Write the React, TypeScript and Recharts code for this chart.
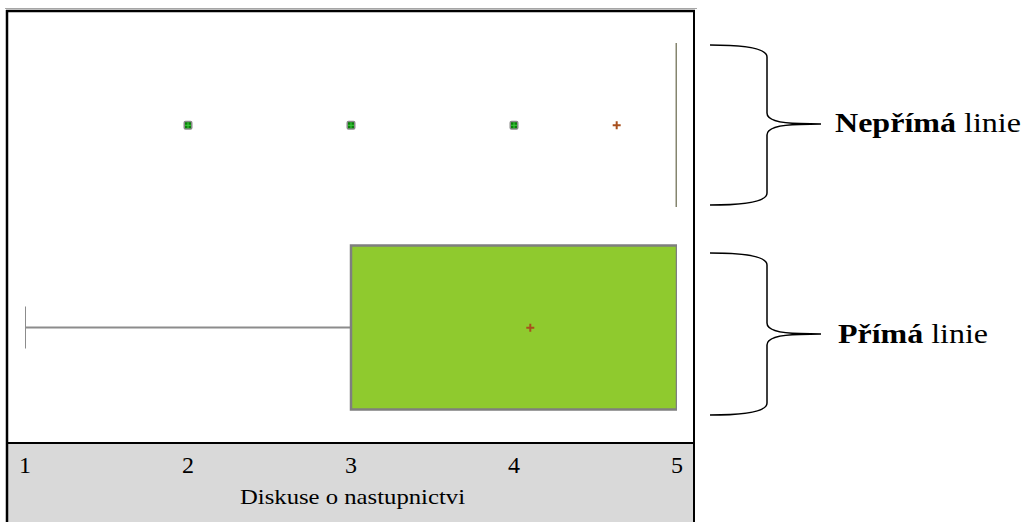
import React from "react";
import { Bar, ComposedChart, Scatter, XAxis, YAxis } from "recharts";

// one row per group, top to bottom
const groups = ["Nepřímá", "Přímá"];
const minValues = [5, 1];
const q1Values = [5, 3];
const q3Values = [5, 5];
const meanValues = [4.63, 4.1];

const outlierGroups = ["Nepřímá", "Nepřímá", "Nepřímá"];
const outlierValues = [2, 3, 4];

const xTicks = [1, 2, 3, 4, 5];
const axisTitle = "Diskuse o nastupnictvi";

const rows = groups.map((cat, i) => ({
  cat,
  min: minValues[i],
  q1: q1Values[i],
  q3: q3Values[i],
}));
const outliers = outlierGroups.map((cat, i) => ({ cat, v: outlierValues[i] }));
const means = groups.map((cat, i) => ({ cat, v: meanValues[i] }));

const serif = "'Liberation Serif', 'Times New Roman', serif";

function BoxShape(props: any) {
  const { x, y, width, height } = props;
  if (Math.abs(width) < 1) {
    return <rect x={x - 1.5} y={y} width={3} height={height} fill="#85856f" />;
  }
  return (
    <rect x={x} y={y} width={width} height={height} fill="#8fca2e" stroke="#7f7f7f" strokeWidth={2.5} />
  );
}

function WhiskerShape(props: any) {
  const { x, y, width, height } = props;
  if (Math.abs(width) < 1) return <g />;
  const cy = y + height / 2;
  return (
    <g stroke="#8c8c8c" strokeWidth={2}>
      <line x1={x} x2={x + width} y1={cy} y2={cy} />
      <line x1={x} x2={x} y1={cy - 21} y2={cy + 21} />
    </g>
  );
}

function OutlierDot(props: any) {
  const { cx, cy } = props;
  return (
    <g>
      <rect x={cx - 4.5} y={cy - 4.5} width={9} height={9} rx={2} fill="#8a8a8a" />
      <rect x={cx - 3} y={cy - 3} width={6} height={6} fill="#0a800a" />
      <path d={`M${cx - 3} ${cy}H${cx + 3}M${cx} ${cy - 3}V${cy + 3}`} stroke="#3fcf3f" strokeWidth={1} />
    </g>
  );
}

function MeanDot(props: any) {
  const { cx, cy } = props;
  return (
    <path d={`M${cx - 4} ${cy}H${cx + 4}M${cx} ${cy - 4}V${cy + 4}`} stroke="#a8501e" strokeWidth={2} />
  );
}

function brace(top: number, tip: number, bottom: number) {
  return (
    `M710 ${top} Q767 ${top} 767 ${top + 12} L767 ${tip - 11} Q767 ${tip - 1} 800 ${tip - 0.5} L821 ${tip}` +
    ` M821 ${tip} L800 ${tip + 0.5} Q767 ${tip + 1} 767 ${tip + 11} L767 ${bottom - 12} Q767 ${bottom} 710 ${bottom}`
  );
}

export default function App() {
  return (
    <div style={{ position: "absolute", left: 0, top: 0, width: 1025, height: 522, fontFamily: serif }}>
      <svg width={1025} height={522} style={{ position: "absolute", left: 0, top: 0 }}>
        <rect x={8} y={444} width={686} height={78} fill="#d9d9d9" />
      </svg>
      <div style={{ position: "absolute", left: 0, top: 0 }}>
        <ComposedChart
          width={1025}
          height={522}
          layout="vertical"
          data={rows}
          margin={{ top: 10, right: 332, bottom: 0, left: 8 }}
        >
          <XAxis
            type="number"
            domain={[1, 5]}
            ticks={xTicks}
            allowDataOverflow
            padding={{ left: 17, right: 16 }}
            height={79}
            tickLine={false}
            tickSize={6}
            tickMargin={7}
            axisLine={{ stroke: "#000", strokeWidth: 2 }}
            tick={{ fill: "#000", fontSize: 24, fontFamily: serif }}
          />
          <YAxis
            yAxisId="box"
            type="category"
            dataKey="cat"
            allowDuplicatedCategory={false}
            hide
            width={0}
            padding={{ top: 14, bottom: 14 }}
          />
          <YAxis
            yAxisId="whisker"
            type="category"
            dataKey="cat"
            allowDuplicatedCategory={false}
            hide
            width={0}
            padding={{ top: 14, bottom: 14 }}
          />
          <Bar
            yAxisId="whisker"
            dataKey={(d: any) => [d.min, d.q1]}
            barSize={164}
            shape={<WhiskerShape />}
            isAnimationActive={false}
          />
          <Bar
            yAxisId="box"
            dataKey={(d: any) => [d.q1, d.q3]}
            barSize={164}
            shape={<BoxShape />}
            isAnimationActive={false}
          />
          <Scatter yAxisId="box" data={outliers} dataKey="v" shape={<OutlierDot />} isAnimationActive={false} />
          <Scatter yAxisId="box" data={means} dataKey="v" shape={<MeanDot />} isAnimationActive={false} />
        </ComposedChart>
      </div>
      <svg
        width={1025}
        height={522}
        style={{ position: "absolute", left: 0, top: 0, pointerEvents: "none" }}
        fontFamily={serif}
      >
        {/* frame */}
        <line x1={5} x2={697} y1={8.5} y2={8.5} stroke="#a6a6a6" strokeWidth={1} />
        <line x1={6} x2={695} y1={11} y2={11} stroke="#000" strokeWidth={2.5} />
        <line x1={7} x2={7} y1={10} y2={522} stroke="#000" strokeWidth={2.5} />
        <line x1={694} x2={694} y1={10} y2={522} stroke="#000" strokeWidth={2} />

        <text x={240} y={504} fontSize={22} fill="#000" textLength={225} lengthAdjust="spacingAndGlyphs">
          {axisTitle}
        </text>

        <path d={brace(45, 124, 205)} fill="none" stroke="#000" strokeWidth={1.5} />
        <path d={brace(253, 334, 415)} fill="none" stroke="#000" strokeWidth={1.5} />

        <text x={835} y={132} fontSize={27} fill="#000" textLength={186} lengthAdjust="spacingAndGlyphs">
          <tspan fontWeight="bold">Nepřímá</tspan> linie
        </text>
        <text x={838} y={343} fontSize={27} fill="#000" textLength={150} lengthAdjust="spacingAndGlyphs">
          <tspan fontWeight="bold">Přímá</tspan> linie
        </text>
      </svg>
    </div>
  );
}
